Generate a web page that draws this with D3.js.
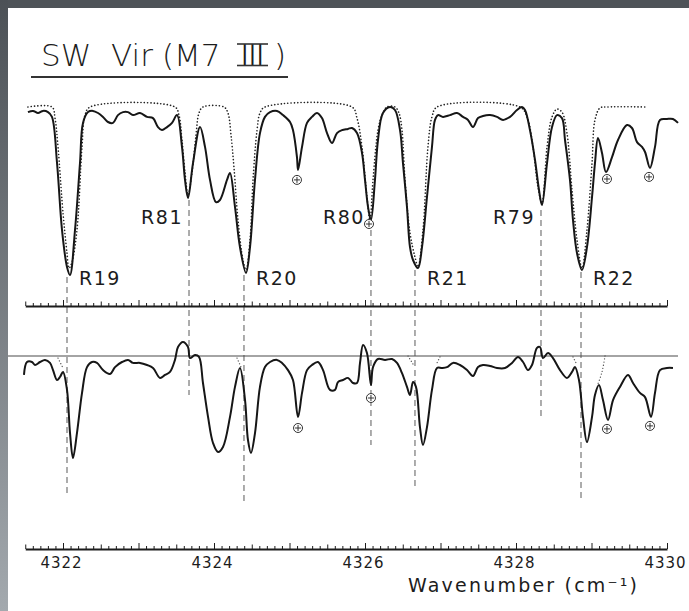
<!DOCTYPE html>
<html>
<head>
<meta charset="utf-8">
<script src="https://cdn.jsdelivr.net/npm/d3@7"></script>
<style>
  body { margin: 0; background: #fff; overflow: hidden; }
  svg { display: block; }
  text { font-family: "DejaVu Sans", sans-serif; fill: #1c1c1c; }
</style>
</head>
<body>
<svg id="chart" width="689" height="611"></svg>
<script>
// observed spectrum, upper panel: [wavenumber cm^-1, relative flux]
const observedTop = [
  [4321.536, 0.983], [4321.603, 0.987], [4321.669, 0.98], [4321.735, 0.987], [4321.801, 0.983],
  [4321.854, 0.967], [4321.921, 0.813], [4321.987, 0.59], [4322.053, 0.467], [4322.093, 0.44],
  [4322.159, 0.59], [4322.225, 0.813], [4322.265, 0.947], [4322.331, 0.983], [4322.397, 0.987],
  [4322.464, 0.98], [4322.53, 0.967], [4322.596, 0.95], [4322.662, 0.947], [4322.728, 0.973],
  [4322.795, 0.983], [4322.861, 0.983], [4322.927, 0.973], [4323.02, 0.98], [4323.113, 0.967],
  [4323.192, 0.963], [4323.258, 0.933], [4323.311, 0.923], [4323.377, 0.933], [4323.444, 0.947],
  [4323.51, 0.973], [4323.576, 0.867], [4323.616, 0.757], [4323.656, 0.697], [4323.722, 0.813],
  [4323.815, 0.933], [4323.881, 0.867], [4323.947, 0.757], [4324.026, 0.683], [4324.079, 0.69],
  [4324.172, 0.757], [4324.212, 0.78], [4324.278, 0.667], [4324.344, 0.533], [4324.424, 0.447],
  [4324.477, 0.533], [4324.543, 0.757], [4324.609, 0.913], [4324.675, 0.967], [4324.742, 0.983],
  [4324.834, 0.987], [4324.914, 0.973], [4325.007, 0.95], [4325.046, 0.923], [4325.099, 0.833],
  [4325.113, 0.79], [4325.166, 0.867], [4325.232, 0.947], [4325.298, 0.967], [4325.364, 0.98],
  [4325.43, 0.963], [4325.497, 0.913], [4325.563, 0.88], [4325.629, 0.913], [4325.695, 0.923],
  [4325.775, 0.927], [4325.828, 0.93], [4325.894, 0.913], [4325.96, 0.847], [4326.0, 0.757],
  [4326.04, 0.667], [4326.079, 0.623], [4326.132, 0.757], [4326.172, 0.89], [4326.238, 0.98],
  [4326.331, 1.0], [4326.397, 0.99], [4326.464, 0.923], [4326.503, 0.813], [4326.556, 0.667],
  [4326.596, 0.533], [4326.636, 0.49], [4326.702, 0.463], [4326.755, 0.533], [4326.821, 0.7],
  [4326.887, 0.867], [4326.927, 0.957], [4326.967, 0.973], [4327.033, 0.967], [4327.126, 0.973],
  [4327.219, 0.98], [4327.298, 0.967], [4327.364, 0.957], [4327.43, 0.933], [4327.497, 0.963],
  [4327.563, 0.97], [4327.656, 0.973], [4327.748, 0.967], [4327.828, 0.957], [4327.921, 0.967],
  [4328.013, 0.99], [4328.079, 1.0], [4328.119, 0.99], [4328.185, 0.923], [4328.252, 0.823],
  [4328.305, 0.723], [4328.344, 0.673], [4328.411, 0.813], [4328.477, 0.933], [4328.543, 0.973],
  [4328.609, 0.963], [4328.649, 0.89], [4328.715, 0.757], [4328.755, 0.623], [4328.808, 0.513],
  [4328.874, 0.457], [4328.94, 0.533], [4329.007, 0.7], [4329.046, 0.813], [4329.086, 0.897],
  [4329.139, 0.847], [4329.192, 0.783], [4329.272, 0.833], [4329.351, 0.89], [4329.47, 0.94],
  [4329.536, 0.93], [4329.603, 0.883], [4329.669, 0.867], [4329.709, 0.85], [4329.775, 0.797],
  [4329.841, 0.867], [4329.907, 0.957], [4330.0, 0.96], [4330.079, 0.96], [4330.146, 0.947]
];

// synthetic spectrum (dotted), upper panel
const modelTop = [
  [4321.536, 1.0], [4321.854, 1.0], [4321.894, 0.963], [4321.934, 0.867], [4322.0, 0.647],
  [4322.053, 0.513], [4322.079, 0.463], [4322.119, 0.483], [4322.185, 0.59], [4322.252, 0.867],
  [4322.291, 0.973], [4322.358, 1.0], [4323.483, 1.0], [4323.536, 0.973], [4323.576, 0.89],
  [4323.616, 0.783], [4323.656, 0.707], [4323.709, 0.783], [4323.762, 0.907], [4323.801, 0.98],
  [4323.854, 1.0], [4324.132, 1.0], [4324.185, 0.98], [4324.225, 0.907], [4324.265, 0.797],
  [4324.318, 0.623], [4324.384, 0.49], [4324.424, 0.457], [4324.477, 0.557], [4324.517, 0.757],
  [4324.57, 0.923], [4324.609, 0.98], [4324.675, 1.0], [4325.828, 1.0], [4325.894, 0.963],
  [4325.96, 0.867], [4326.026, 0.7], [4326.066, 0.623], [4326.106, 0.757], [4326.172, 0.923],
  [4326.225, 0.973], [4326.291, 1.0], [4326.397, 1.0], [4326.45, 0.98], [4326.49, 0.923],
  [4326.53, 0.757], [4326.596, 0.58], [4326.662, 0.5], [4326.702, 0.467], [4326.768, 0.59],
  [4326.834, 0.867], [4326.887, 0.967], [4326.954, 1.0], [4328.053, 1.0], [4328.146, 0.967],
  [4328.225, 0.867], [4328.291, 0.733], [4328.344, 0.68], [4328.411, 0.867], [4328.477, 0.967],
  [4328.543, 0.993], [4328.609, 0.983], [4328.675, 0.913], [4328.742, 0.723], [4328.808, 0.557],
  [4328.874, 0.463], [4328.94, 0.59], [4329.007, 0.813], [4329.046, 0.957], [4329.113, 0.997],
  [4329.205, 1.0], [4329.735, 1.0]
];

// observed spectrum, lower panel
const observedBottom = [
  [4321.483, 0.937], [4321.523, 0.98], [4321.589, 0.98], [4321.629, 0.97], [4321.695, 0.98],
  [4321.762, 0.987], [4321.828, 0.977], [4321.868, 0.953], [4321.921, 0.92], [4321.96, 0.93],
  [4322.0, 0.947], [4322.053, 0.887], [4322.093, 0.743], [4322.132, 0.66], [4322.185, 0.743],
  [4322.252, 0.877], [4322.318, 0.963], [4322.384, 0.98], [4322.45, 0.977], [4322.53, 0.953],
  [4322.623, 0.94], [4322.689, 0.963], [4322.781, 0.98], [4322.861, 0.987], [4322.927, 0.977],
  [4323.02, 0.977], [4323.113, 0.97], [4323.192, 0.96], [4323.285, 0.927], [4323.351, 0.937],
  [4323.417, 0.947], [4323.483, 0.987], [4323.523, 1.03], [4323.589, 1.047], [4323.656, 1.03],
  [4323.682, 0.993], [4323.748, 1.003], [4323.801, 0.997], [4323.854, 0.91], [4323.921, 0.797],
  [4323.987, 0.71], [4324.053, 0.68], [4324.119, 0.697], [4324.212, 0.797], [4324.278, 0.897],
  [4324.344, 0.96], [4324.411, 0.853], [4324.45, 0.72], [4324.49, 0.677], [4324.543, 0.743],
  [4324.609, 0.897], [4324.675, 0.963], [4324.742, 0.98], [4324.834, 0.987], [4324.901, 0.977],
  [4324.98, 0.953], [4325.046, 0.92], [4325.113, 0.797], [4325.166, 0.877], [4325.232, 0.953],
  [4325.298, 0.97], [4325.377, 0.98], [4325.444, 0.953], [4325.536, 0.887], [4325.603, 0.887],
  [4325.642, 0.913], [4325.709, 0.92], [4325.775, 0.927], [4325.841, 0.91], [4325.894, 0.91],
  [4325.934, 0.977], [4325.974, 1.037], [4326.026, 1.01], [4326.079, 0.903], [4326.106, 0.963],
  [4326.172, 0.99], [4326.265, 0.987], [4326.358, 0.99], [4326.424, 0.977], [4326.49, 0.943],
  [4326.556, 0.897], [4326.596, 0.87], [4326.636, 0.913], [4326.675, 0.897], [4326.728, 0.763],
  [4326.768, 0.703], [4326.821, 0.763], [4326.887, 0.887], [4326.954, 0.96], [4327.02, 0.96],
  [4327.086, 0.963], [4327.166, 0.977], [4327.258, 0.97], [4327.351, 0.953], [4327.43, 0.933],
  [4327.497, 0.963], [4327.563, 0.97], [4327.656, 0.967], [4327.748, 0.96], [4327.854, 0.96],
  [4327.947, 0.977], [4328.026, 0.997], [4328.093, 0.98], [4328.159, 0.953], [4328.212, 0.97],
  [4328.278, 1.027], [4328.318, 1.03], [4328.358, 0.993], [4328.424, 1.01], [4328.49, 0.993],
  [4328.583, 0.953], [4328.675, 0.927], [4328.742, 0.947], [4328.781, 0.963], [4328.834, 0.92],
  [4328.887, 0.797], [4328.94, 0.713], [4329.007, 0.797], [4329.046, 0.87], [4329.099, 0.903],
  [4329.152, 0.853], [4329.219, 0.787], [4329.285, 0.853], [4329.377, 0.897], [4329.483, 0.937],
  [4329.55, 0.91], [4329.642, 0.877], [4329.709, 0.863], [4329.788, 0.797], [4329.841, 0.877],
  [4329.907, 0.953], [4330.0, 0.96], [4330.079, 0.96]
];

// short dotted pieces of the synthetic spectrum visible in the lower panel
const modelBottomPieces = [
  [[4321.934, 0.993], [4322.0, 0.96]],
  [[4324.305, 0.993], [4324.358, 0.963]],
  [[4326.57, 1.0], [4326.636, 0.973]],
  [[4326.993, 0.997], [4326.954, 0.977]],
  [[4328.755, 0.997], [4328.795, 0.977]],
  [[4329.179, 1.0], [4329.139, 0.947], [4329.086, 0.907]]
];

// identified lines
const lineIds = ["R19", "R81", "R20", "R80", "R21", "R79", "R22"];
const lineWavenumbers = [4322.053, 4323.669, 4324.397, 4326.079, 4326.662, 4328.331, 4328.861];
const lineLabelRow = ["low", "high", "low", "high", "low", "high", "low"];
const dashStartFlux = [0.433, 0.69, 0.44, 0.59, 0.457, 0.657, 0.45];   // upper panel
const dashEndFlux = [0.53, 0.87, 0.503, 0.703, 0.56, 0.797, 0.527];    // lower panel

// telluric features (circled plus)
const telluricTop = [[4325.099, 0.757], [4326.053, 0.61], [4329.205, 0.76], [4329.762, 0.767]];
const telluricBottom = [[4325.113, 0.76], [4326.079, 0.86], [4329.205, 0.757], [4329.775, 0.767]];

const axisLabels = [4322, 4324, 4326, 4328, 4330];

const svg = d3.select("#chart");
const W = 689, H = 611;

// scanned page frame
const defs = svg.append("defs");
const grad = defs.append("linearGradient").attr("id", "edge").attr("x1", 0).attr("y1", 0).attr("x2", 0).attr("y2", 1);
grad.append("stop").attr("offset", "0%").attr("stop-color", "#4c5156");
grad.append("stop").attr("offset", "100%").attr("stop-color", "#a3a9ae");
svg.append("rect").attr("width", W).attr("height", H).attr("fill", "#fff");
svg.append("rect").attr("x", 0).attr("y", 0).attr("width", W).attr("height", 8).attr("fill", "#4e5358");
svg.append("rect").attr("x", 0).attr("y", 0).attr("width", 8).attr("height", H).attr("fill", "url(#edge)");

const x = d3.scaleLinear().domain([4321.5, 4330]).range([25.25, 667]);
const yTop = d3.scaleLinear().domain([0.4, 1]).range([287, 107]);
const yBottom = d3.scaleLinear().domain([0.4, 1]).range([536, 356]);

const midAxisY = 306;
const bottomAxisY = 549;

// title
const title = svg.append("text").attr("y", 66).attr("font-size", 31).attr("font-weight", 200);
title.append("tspan").attr("x", 41).text("SW");
title.append("tspan").attr("x", 111).text("Vir");
title.append("tspan").attr("x", 162).text("(M7");
title.append("tspan").attr("x", 274).text(")");
svg.append("text").attr("x", 239).attr("y", 66).attr("font-size", 31).attr("font-weight", 200)
  .attr("textLength", 27).attr("lengthAdjust", "spacingAndGlyphs").text("Ⅲ");
svg.append("g").attr("stroke", "#333").attr("stroke-width", 1.6)
  .selectAll("line").data([44, 65.5]).join("line")
  .attr("x1", 237).attr("x2", 268).attr("y1", (d) => d).attr("y2", (d) => d);
svg.append("line").attr("x1", 31).attr("x2", 288).attr("y1", 77).attr("y2", 77)
  .attr("stroke", "#333").attr("stroke-width", 1.8);

// dashed line markers
const dashes = svg.append("g").attr("stroke", "#6a6a6a").attr("stroke-width", 1.1)
  .attr("stroke-dasharray", "6,4");
lineWavenumbers.forEach((wn, i) => {
  dashes.append("line")
    .attr("x1", x(wn)).attr("x2", x(wn))
    .attr("y1", yTop(dashStartFlux[i]))
    .attr("y2", yBottom(dashEndFlux[i]));
});

// axes with ticks pointing up
function tickAxis(yPos) {
  const minor = d3.range(43215, 43301).map((d) => d / 10);
  const g = svg.append("g").attr("transform", `translate(0,${yPos})`);
  g.call(d3.axisTop(x).tickValues(minor).tickFormat("").tickSizeOuter(0)
    .tickSizeInner(3));
  g.selectAll(".tick line")
    .attr("y2", (d) => {
      const r = Math.round(d * 10) % 10;
      if (r === 0) return -6;
      if (r === 5) return -4.5;
      return -3;
    });
  g.select(".domain").attr("stroke-width", 1.8);
  g.selectAll("line, path").attr("stroke", "#1c1c1c");
  g.selectAll(".tick line").attr("stroke-width", 1);
  return g;
}
tickAxis(midAxisY);
tickAxis(bottomAxisY);

const labelAxis = svg.append("g").attr("transform", `translate(-2,${bottomAxisY + 3})`)
  .call(d3.axisBottom(x).tickValues(axisLabels).tickFormat(d3.format("d")).tickSize(0));
labelAxis.select(".domain").remove();
labelAxis.selectAll("text").attr("font-size", 15).attr("letter-spacing", 1)
  .style("font-family", "'DejaVu Sans', sans-serif").attr("fill", "#1c1c1c").attr("dy", "0.85em");

svg.append("text").attr("x", 408).attr("y", 592).attr("font-size", 19)
  .attr("textLength", 229).attr("lengthAdjust", "spacing")
  .text("Wavenumber (cm⁻¹)");

// lower panel reference line
svg.append("line").attr("x1", 8).attr("x2", 678).attr("y1", 356).attr("y2", 356)
  .attr("stroke", "#4a4a4a").attr("stroke-width", 1.2);

const lineTop = d3.line().x((d) => x(d[0])).y((d) => yTop(d[1])).curve(d3.curveCatmullRom.alpha(0.5));
const lineBottom = d3.line().x((d) => x(d[0])).y((d) => yBottom(d[1])).curve(d3.curveCatmullRom.alpha(0.5));

svg.append("path").datum(modelTop).attr("d", lineTop).attr("fill", "none")
  .attr("stroke", "#222").attr("stroke-width", 1.6).attr("stroke-linecap", "round")
  .attr("stroke-dasharray", "0.1,3.2");

svg.selectAll("path.model-bottom").data(modelBottomPieces).join("path")
  .attr("class", "model-bottom").attr("d", lineBottom).attr("fill", "none")
  .attr("stroke", "#555").attr("stroke-width", 1.3).attr("stroke-linecap", "round")
  .attr("stroke-dasharray", "0.1,3");

svg.append("path").datum(observedTop).attr("d", lineTop).attr("fill", "none")
  .attr("stroke", "#161616").attr("stroke-width", 2).attr("stroke-linejoin", "round");
svg.append("path").datum(observedBottom).attr("d", lineBottom).attr("fill", "none")
  .attr("stroke", "#161616").attr("stroke-width", 2).attr("stroke-linejoin", "round");

// line labels
lineIds.forEach((id, i) => {
  const low = lineLabelRow[i] === "low";
  svg.append("text")
    .attr("x", x(lineWavenumbers[i]) + (low ? 12 : -6))
    .attr("y", low ? 285 : 224)
    .attr("text-anchor", low ? "start" : "end")
    .attr("font-size", 19).attr("letter-spacing", 1.5)
    .text(id);
});

// circled plus symbols
function oplus(points, yScale) {
  const g = svg.append("g").attr("fill", "#fff").attr("stroke", "#333").attr("stroke-width", 1);
  points.forEach(([wn, f]) => {
    const cx = x(wn), cy = yScale(f);
    g.append("circle").attr("cx", cx).attr("cy", cy).attr("r", 4.5);
    g.append("path").attr("d", `M${cx - 3},${cy}H${cx + 3}M${cx},${cy - 3}V${cy + 3}`);
  });
}
oplus(telluricTop, yTop);
oplus(telluricBottom, yBottom);
</script>
</body>
</html>
